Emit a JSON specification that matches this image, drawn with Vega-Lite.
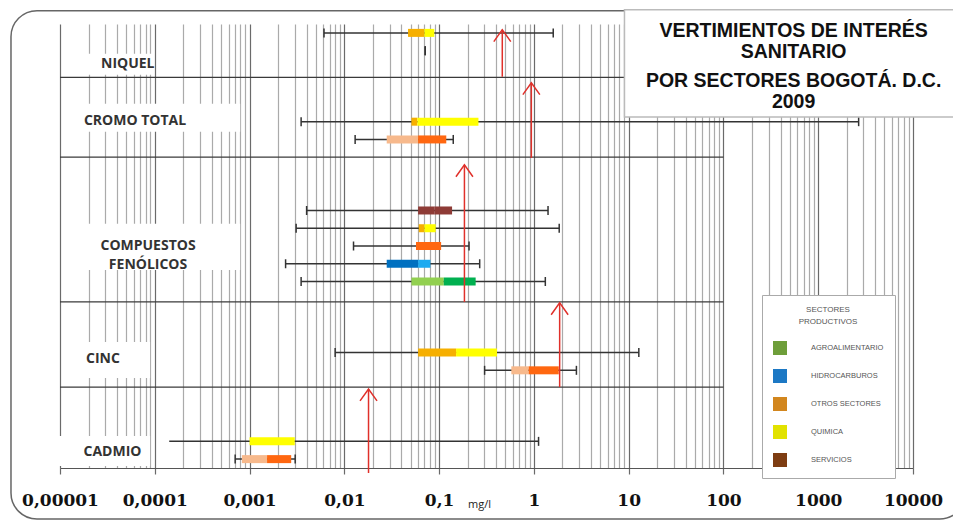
{
  "$schema": "https://vega.github.io/schema/vega-lite/v6.json",
  "width": 853,
  "height": 444,
  "autosize": {"type": "none"},
  "padding": {"left": 60, "top": 24, "right": 40, "bottom": 53},
  "background": "white",
  "config": {"view": {"stroke": null}, "scale": {"continuousPadding": 0}},
  "datasets": {
    "marco": [{"x1": 0.00000304, "x2": 36000, "y1": -2.87, "y2": 25.75}],
    "cajaTitulo": [{"x1": 9.03, "x2": 28240, "y1": 19.77, "y2": 25.8}],
    "titulo": [
      {"linea": "VERTIMIENTOS DE INTERÉS", "x": 550, "y": 24.62},
      {"linea": "SANITARIO", "x": 550, "y": 23.44},
      {"linea": "POR SECTORES BOGOTÁ. D.C.", "x": 550, "y": 21.8},
      {"linea": "2009", "x": 550, "y": 20.62}
    ],
    "etiquetas": [
      {"texto": "NIQUEL", "x": 0.0000519, "y": 22.73, "bx1": 0.0000105, "bx2": 0.0000937, "by1": 22.14, "by2": 23.32},
      {"texto": "CROMO TOTAL", "x": 0.0000619, "y": 19.55, "bx1": 0.0000105, "bx2": 0.000796, "by1": 18.93, "by2": 20.51},
      {"texto": "COMPUESTOS\nFENÓLICOS", "x": 0.0000849, "y": 12.48, "bx1": 0.0000184, "bx2": 0.000796, "by1": 11.15, "by2": 13.75},
      {"texto": "CINC", "x": 0.0000284, "y": 6.12, "bx1": 0.0000105, "bx2": 0.0000892, "by1": 5.07, "by2": 7.1},
      {"texto": "CADMIO", "x": 0.0000358, "y": 0.92, "bx1": 0.00000886, "bx2": 0.0000892, "by1": 0.11, "by2": 1.8}
    ],
    "separadores": [{"y": 22}, {"y": 17.5}, {"y": 9.35}, {"y": 4.55}],
    "limites": [
      {"metal": "NIQUEL", "limite": 0.464, "ytop": 24.68, "ybot": 22.03},
      {"metal": "CROMO TOTAL", "limite": 0.94, "ytop": 21.69, "ybot": 17.46},
      {"metal": "COMPUESTOS FENÓLICOS", "limite": 0.185, "ytop": 17.07, "ybot": 9.35},
      {"metal": "CINC", "limite": 1.87, "ytop": 9.3, "ybot": 4.56},
      {"metal": "CADMIO", "limite": 0.018, "ytop": 4.45, "ybot": -0.28}
    ],
    "cajas": [
      {"metal": "NIQUEL", "sector": "QUIMICA", "y": 24.5, "min": 0.0061, "q1": 0.047, "med": 0.07, "q3": 0.089, "max": 1.6},
      {"metal": "NIQUEL", "sector": "OTROS SECTORES", "y": 23.5, "min": 0.0714, "q1": 0.0714, "med": 0.0714, "q3": 0.0714, "max": 0.0714},
      {"metal": "CROMO TOTAL", "sector": "QUIMICA", "y": 19.5, "min": 0.0035, "q1": 0.051, "med": 0.059, "q3": 0.26, "max": 2670},
      {"metal": "CROMO TOTAL", "sector": "OTROS SECTORES", "y": 18.5, "min": 0.013, "q1": 0.028, "med": 0.06, "q3": 0.119, "max": 0.141},
      {"metal": "COMPUESTOS FENÓLICOS", "sector": "SERVICIOS", "y": 14.5, "min": 0.004, "q1": 0.06, "med": 0.09, "q3": 0.137, "max": 1.41},
      {"metal": "COMPUESTOS FENÓLICOS", "sector": "QUIMICA", "y": 13.5, "min": 0.0031, "q1": 0.061, "med": 0.07, "q3": 0.092, "max": 1.85},
      {"metal": "COMPUESTOS FENÓLICOS", "sector": "OTROS SECTORES", "y": 12.5, "min": 0.0125, "q1": 0.057, "med": 0.057, "q3": 0.105, "max": 0.207},
      {"metal": "COMPUESTOS FENÓLICOS", "sector": "HIDROCARBUROS", "y": 11.5, "min": 0.0024, "q1": 0.028, "med": 0.06, "q3": 0.081, "max": 0.268},
      {"metal": "COMPUESTOS FENÓLICOS", "sector": "AGROALIMENTARIO", "y": 10.5, "min": 0.0035, "q1": 0.051, "med": 0.112, "q3": 0.243, "max": 1.32},
      {"metal": "CINC", "sector": "QUIMICA", "y": 6.5, "min": 0.008, "q1": 0.06, "med": 0.151, "q3": 0.408, "max": 12.8},
      {"metal": "CINC", "sector": "OTROS SECTORES", "y": 5.5, "min": 0.302, "q1": 0.578, "med": 0.881, "q3": 1.83, "max": 2.81},
      {"metal": "CADMIO", "sector": "QUIMICA", "y": 1.5, "min": 0.000142, "q1": 0.001, "med": 0.001, "q3": 0.003, "max": 1.12},
      {"metal": "CADMIO", "sector": "OTROS SECTORES", "y": 0.5, "min": 0.000705, "q1": 0.00083, "med": 0.00153, "q3": 0.00275, "max": 0.00303}
    ]
  },
  "layer": [
    {
      "data": {"name": "marco"},
      "mark": {"type": "rect", "fill": null, "fillOpacity": 0, "stroke": "#666666", "strokeWidth": 1.5, "cornerRadius": 26},
      "encoding": {
        "x": {"field": "x1", "type": "quantitative", "scale": {"type": "log", "domain": [0.00001, 10000], "nice": false}},
        "x2": {"field": "x2"},
        "y": {"field": "y1", "type": "quantitative", "scale": {"domain": [0, 25], "nice": false, "zero": false, "padding": 0}, "axis": null},
        "y2": {"field": "y2"}
      }
    },
    {
      "data": {"name": "etiquetas"},
      "mark": {"type": "rect", "fill": "white", "stroke": null},
      "encoding": {
        "x": {"field": "bx1", "type": "quantitative", "scale": {"type": "log", "domain": [0.00001, 10000], "nice": false}},
        "x2": {"field": "bx2"},
        "y": {"field": "by1", "type": "quantitative", "scale": {"domain": [0, 25], "nice": false, "zero": false, "padding": 0}, "axis": null},
        "y2": {"field": "by2"}
      }
    },
    {
      "data": {"name": "separadores"},
      "mark": {"type": "rule", "color": "#3a3a3a", "strokeWidth": 1.3},
      "encoding": {
        "x": {"datum": 0.00001, "type": "quantitative", "scale": {"type": "log", "domain": [0.00001, 10000], "nice": false}},
        "x2": {"datum": 100},
        "y": {"field": "y", "type": "quantitative", "scale": {"domain": [0, 25], "nice": false, "zero": false, "padding": 0}, "axis": null}
      }
    },
    {
      "data": {"name": "cajas"},
      "mark": {"type": "rule", "color": "#333333", "strokeWidth": 1.5},
      "encoding": {
        "x": {
          "field": "min", "type": "quantitative",
          "scale": {"type": "log", "domain": [0.00001, 10000], "nice": false},
          "axis": {
            "values": [0.00001,0.00002,0.00003,0.00004,0.00005,0.00006,0.00007,0.00008,0.00009,0.0001,0.0002,0.0003,0.0004,0.0005,0.0006,0.0007,0.0008,0.0009,0.001,0.002,0.003,0.004,0.005,0.006,0.007,0.008,0.009,0.01,0.02,0.03,0.04,0.05,0.06,0.07,0.08,0.09,0.1,0.2,0.3,0.4,0.5,0.6,0.7,0.8,0.9,1,2,3,4,5,6,7,8,9,10,20,30,40,50,60,70,80,90,100,200,300,400,500,600,700,800,900,1000,2000,3000,4000,5000,6000,7000,8000,9000,10000],
            "title": "mg/l",
            "titleX": 419,
            "titleY": 39,
            "titleBaseline": "alphabetic",
            "titleAlign": "center",
            "titleAnchor": null,
            "titleFont": "Open Sans",
            "titleFontSize": 11,
            "titleFontWeight": "normal",
            "titleColor": "#222222",
            "labelExpr": "indexof([0.00001,0.0001,0.001,0.01,0.1,1,10,100,1000,10000], datum.value) >= 0 ? replace(format(datum.value, '~r'), '.', ',') : ''",
            "labelFont": "DejaVu Serif",
            "labelFontSize": 17,
            "labelFontWeight": "bold",
            "labelColor": "#111111",
            "labelBaseline": "alphabetic",
            "labelPadding": 31,
            "labelOverlap": false,
            "labelFlush": false,
            "labelBound": false,
            "grid": true,
            "gridWidth": 1.2,
            "gridColor": {"condition": {"test": "indexof([0.00001,0.0001,0.001,0.01,0.1,1,10,100,1000,10000], datum.value) >= 0", "value": "#6a6a6a"}, "value": "#aaaaaa"},
            "ticks": true,
            "tickSize": 6,
            "tickWidth": 1.2,
            "tickColor": {"condition": {"test": "indexof([0.00001,0.0001,0.001,0.01,0.1,1,10,100,1000,10000], datum.value) >= 0", "value": "#6a6a6a"}, "value": "transparent"},
            "domain": true,
            "domainColor": "#555555",
            "domainWidth": 1.2
          }
        },
        "x2": {"field": "max"},
        "y": {"field": "y", "type": "quantitative", "scale": {"domain": [0, 25], "nice": false, "zero": false, "padding": 0}, "axis": null}
      }
    },
    {
      "data": {"name": "cajas"},
      "transform": [{"filter": "!(datum.metal == 'CADMIO' && datum.sector == 'QUIMICA')"}],
      "mark": {"type": "tick", "orient": "vertical", "size": 9, "thickness": 1.5, "color": "#333333", "opacity": 1},
      "encoding": {
        "x": {"field": "min", "type": "quantitative", "scale": {"type": "log", "domain": [0.00001, 10000], "nice": false}},
        "y": {"field": "y", "type": "quantitative", "scale": {"domain": [0, 25], "nice": false, "zero": false, "padding": 0}, "axis": null}
      }
    },
    {
      "data": {"name": "cajas"},
      "mark": {"type": "tick", "orient": "vertical", "size": 9, "thickness": 1.5, "color": "#333333", "opacity": 1},
      "encoding": {
        "x": {"field": "max", "type": "quantitative", "scale": {"type": "log", "domain": [0.00001, 10000], "nice": false}},
        "y": {"field": "y", "type": "quantitative", "scale": {"domain": [0, 25], "nice": false, "zero": false, "padding": 0}, "axis": null}
      }
    },
    {
      "data": {"name": "cajas"},
      "mark": {"type": "bar", "size": 8, "opacity": 1},
      "encoding": {
        "x": {"field": "q1", "type": "quantitative", "scale": {"type": "log", "domain": [0.00001, 10000], "nice": false}},
        "x2": {"field": "med"},
        "y": {"field": "y", "type": "quantitative", "scale": {"domain": [0, 25], "nice": false, "zero": false, "padding": 0}, "axis": null},
        "color": {"field": "sector", "type": "nominal", "scale": {"domain": ["AGROALIMENTARIO", "HIDROCARBUROS", "OTROS SECTORES", "QUIMICA", "SERVICIOS"], "range": ["#92D050", "#0070C0", "#F7B98C", "#F6AF00", "#8E3B36"]}, "legend": null}
      }
    },
    {
      "data": {"name": "cajas"},
      "mark": {"type": "bar", "size": 8, "opacity": 1},
      "encoding": {
        "x": {"field": "med", "type": "quantitative", "scale": {"type": "log", "domain": [0.00001, 10000], "nice": false}},
        "x2": {"field": "q3"},
        "y": {"field": "y", "type": "quantitative", "scale": {"domain": [0, 25], "nice": false, "zero": false, "padding": 0}, "axis": null},
        "color": {"field": "sector", "type": "nominal", "scale": {"domain": ["AGROALIMENTARIO", "HIDROCARBUROS", "OTROS SECTORES", "QUIMICA", "SERVICIOS"], "range": ["#00B050", "#1EAAF0", "#FF6710", "#FFFF00", "#8E3B36"]}, "legend": null}
      }
    },
    {
      "data": {"name": "cajas"},
      "mark": {"type": "point", "shape": "square", "filled": true, "opacity": 0},
      "encoding": {
        "x": {"field": "med", "type": "quantitative", "scale": {"type": "log", "domain": [0.00001, 10000], "nice": false}},
        "y": {"field": "y", "type": "quantitative", "scale": {"domain": [0, 25], "nice": false, "zero": false, "padding": 0}, "axis": null},
        "color": {
          "field": "sector", "type": "nominal",
          "scale": {"domain": ["AGROALIMENTARIO", "HIDROCARBUROS", "OTROS SECTORES", "QUIMICA", "SERVICIOS"], "range": ["#6E9E3A", "#1C78C4", "#D2861E", "#E2E200", "#7E3D12"]},
          "legend": {
            "title": ["SECTORES", "PRODUCTIVOS"],
            "orient": "none",
            "legendX": 702,
            "legendY": 271,
            "direction": "vertical",
            "fillColor": "white",
            "strokeColor": "#aaaaaa",
            "padding": 11,
            "titleFont": "Liberation Sans",
            "titleFontSize": 8,
            "titleFontWeight": "normal",
            "titleColor": "#555555",
            "titleAnchor": "middle",
            "titleAlign": "center",
            "titleLineHeight": 12,
            "titlePadding": 15,
            "symbolType": "square",
            "symbolSize": 196,
            "symbolOpacity": 1,
            "symbolStrokeWidth": 0,
            "labelFont": "Liberation Sans",
            "labelFontSize": 7.5,
            "labelColor": "#555555",
            "labelOffset": 24,
            "rowPadding": 14
          }
        }
      }
    },
    {
      "data": {"name": "limites"},
      "mark": {"type": "rule", "color": "#E0302A", "strokeWidth": 1.5},
      "encoding": {
        "x": {"field": "limite", "type": "quantitative", "scale": {"type": "log", "domain": [0.00001, 10000], "nice": false}},
        "y": {"field": "ytop", "type": "quantitative", "scale": {"domain": [0, 25], "nice": false, "zero": false, "padding": 0}, "axis": null},
        "y2": {"field": "ybot"}
      }
    },
    {
      "data": {"name": "limites"},
      "mark": {"type": "point", "shape": "M-1,1.4L0,0L1,1.4", "size": 289, "filled": false, "color": "#E0302A", "strokeWidth": 1.5, "opacity": 1},
      "encoding": {
        "x": {"field": "limite", "type": "quantitative", "scale": {"type": "log", "domain": [0.00001, 10000], "nice": false}},
        "y": {"field": "ytop", "type": "quantitative", "scale": {"domain": [0, 25], "nice": false, "zero": false, "padding": 0}, "axis": null}
      }
    },
    {
      "data": {"name": "cajaTitulo"},
      "mark": {"type": "rect", "fill": "white", "stroke": "#bbbbbb", "strokeWidth": 1.5},
      "encoding": {
        "x": {"field": "x1", "type": "quantitative", "scale": {"type": "log", "domain": [0.00001, 10000], "nice": false}},
        "x2": {"field": "x2"},
        "y": {"field": "y1", "type": "quantitative", "scale": {"domain": [0, 25], "nice": false, "zero": false, "padding": 0}, "axis": null},
        "y2": {"field": "y2"}
      }
    },
    {
      "data": {"name": "titulo"},
      "mark": {"type": "text", "font": "Liberation Sans", "fontSize": 19.5, "fontWeight": "bold", "color": "#111111", "align": "center", "baseline": "middle"},
      "encoding": {
        "x": {"field": "x", "type": "quantitative", "scale": {"type": "log", "domain": [0.00001, 10000], "nice": false}},
        "y": {"field": "y", "type": "quantitative", "scale": {"domain": [0, 25], "nice": false, "zero": false, "padding": 0}, "axis": null},
        "text": {"field": "linea"}
      }
    },
    {
      "data": {"name": "etiquetas"},
      "mark": {"type": "text", "font": "Open Sans", "fontSize": 14, "fontWeight": "bold", "color": "#333333", "align": "center", "baseline": "middle", "lineBreak": "\n", "lineHeight": 19},
      "encoding": {
        "x": {"field": "x", "type": "quantitative", "scale": {"type": "log", "domain": [0.00001, 10000], "nice": false}},
        "y": {"field": "y", "type": "quantitative", "scale": {"domain": [0, 25], "nice": false, "zero": false, "padding": 0}, "axis": null},
        "text": {"field": "texto"}
      }
    }
  ],
  "resolve": {"scale": {"color": "independent"}}
}
